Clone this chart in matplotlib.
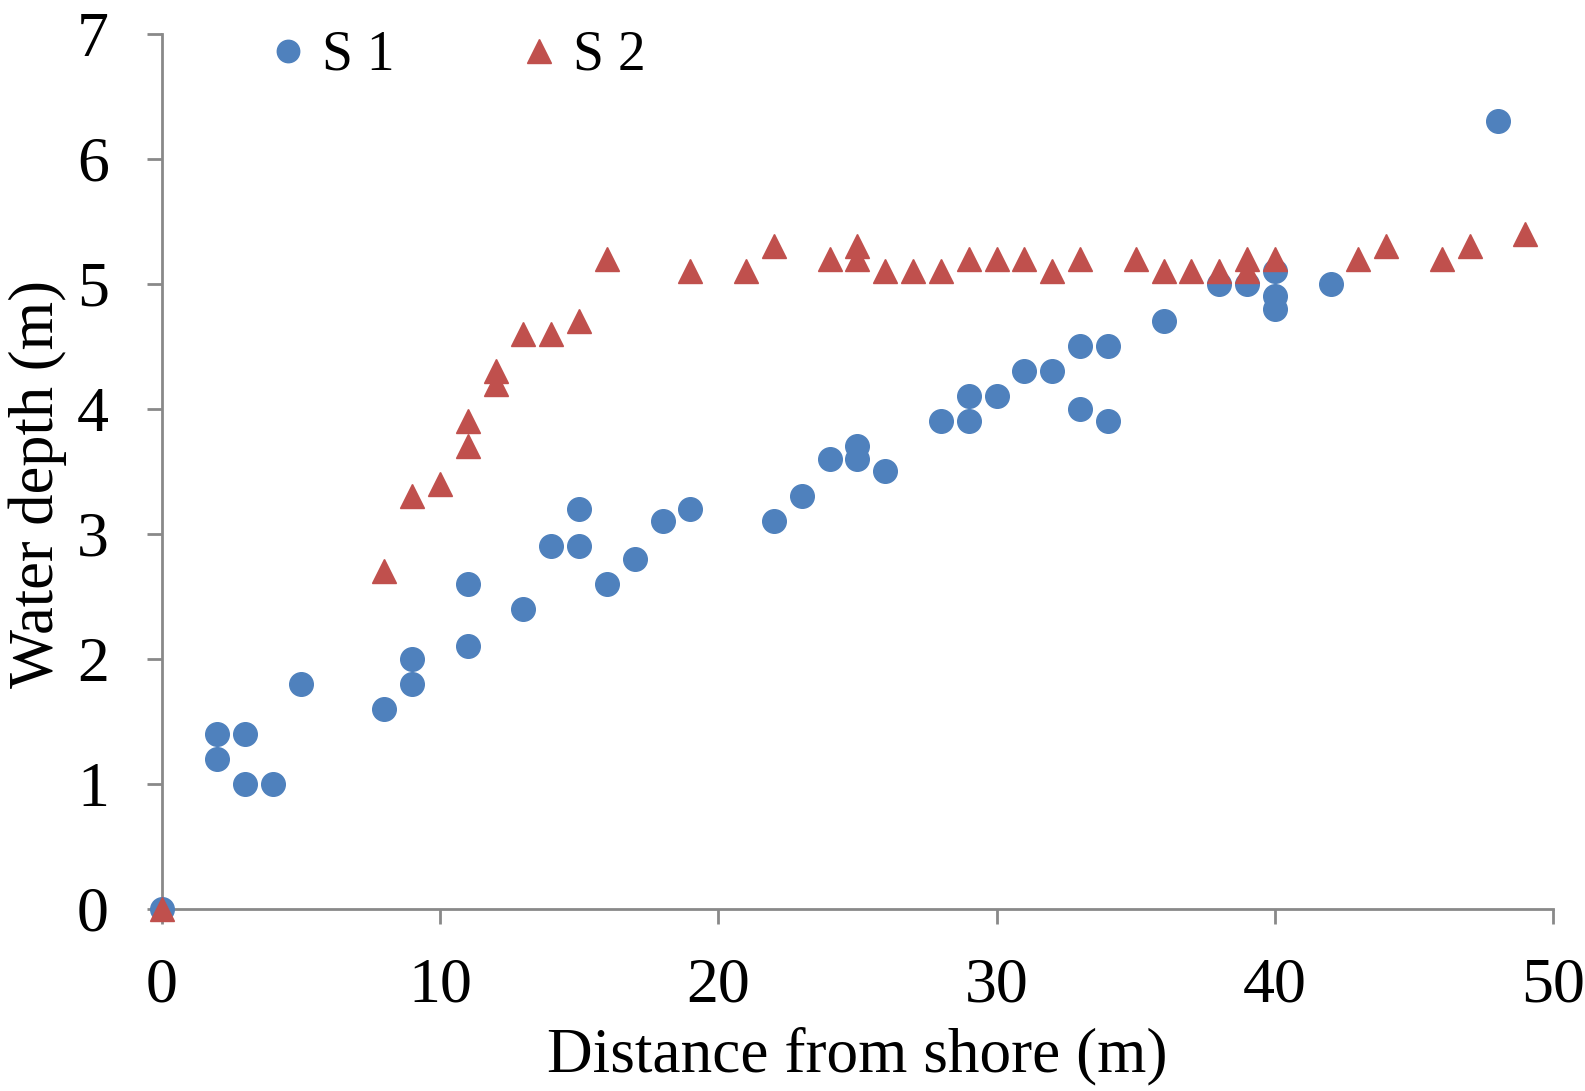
import matplotlib.pyplot as plt

# S 1 survey line (blue circles)
s1_dist = [0, 2, 2, 3, 3, 4, 5, 8, 9, 9, 11, 11, 13, 14, 15, 15, 16, 17, 18, 19,
           22, 23, 24, 25, 25, 26, 28, 29, 29, 30, 31, 32, 33, 33, 34, 34, 36,
           38, 39, 40, 40, 40, 42, 48]
s1_depth = [0, 1.4, 1.2, 1.4, 1.0, 1.0, 1.8, 1.6, 2.0, 1.8, 2.6, 2.1, 2.4, 2.9, 3.2, 2.9, 2.6, 2.8, 3.1, 3.2,
            3.1, 3.3, 3.6, 3.7, 3.6, 3.5, 3.9, 4.1, 3.9, 4.1, 4.3, 4.3, 4.5, 4.0, 4.5, 3.9, 4.7,
            5.0, 5.0, 5.1, 4.9, 4.8, 5.0, 6.3]

# S 2 survey line (red triangles)
s2_dist = [0, 8, 9, 10, 11, 11, 12, 12, 13, 14, 15, 16, 19, 21, 22, 24, 25, 25, 26, 27,
           28, 29, 30, 31, 32, 33, 35, 36, 37, 38, 39, 39, 40, 43, 44, 46, 47, 49]
s2_depth = [0, 2.7, 3.3, 3.4, 3.9, 3.7, 4.3, 4.2, 4.6, 4.6, 4.7, 5.2, 5.1, 5.1, 5.3, 5.2, 5.3, 5.2, 5.1, 5.1,
            5.1, 5.2, 5.2, 5.2, 5.1, 5.2, 5.2, 5.1, 5.1, 5.1, 5.2, 5.1, 5.2, 5.2, 5.3, 5.2, 5.3, 5.4]

x_ticks = [0, 10, 20, 30, 40, 50]
y_ticks = [0, 1, 2, 3, 4, 5, 6, 7]

plt.rcParams['font.family'] = ['Liberation Serif', 'DejaVu Serif']

fig = plt.figure(figsize=(15.85, 10.91), dpi=100)
ax = fig.add_axes([0.102, 0.167, 0.878, 0.802])

ax.plot(s1_dist, s1_depth, linestyle='none', marker='o', markersize=17,
        color='#4F81BD', label='S 1', clip_on=False, zorder=3)
ax.plot(s2_dist, s2_depth, linestyle='none', marker='^', markersize=17.5,
        color='#C0504D', label='S 2', clip_on=False, zorder=4)

ax.set_xlim(0, 50)
ax.set_ylim(0, 7)
ax.set_xticks(x_ticks)
ax.set_yticks(y_ticks)

grey = '#898989'
for side in ['top', 'right']:
    ax.spines[side].set_visible(False)
for side in ['left', 'bottom']:
    ax.spines[side].set_color(grey)
    ax.spines[side].set_linewidth(2)

ax.tick_params(axis='both', direction='out', length=11, width=2, color=grey,
               labelsize=46)
ax.tick_params(axis='x', pad=24)
ax.tick_params(axis='y', pad=27)

ax.set_xlabel('Distance from shore (m)', fontsize=45.5, labelpad=8)
ax.set_ylabel('Water depth (m)', fontsize=45)
ax.yaxis.set_label_coords(-0.068, 0.485)

fig.legend(loc='center left', bbox_to_anchor=(271 / 1585, 1 - 56 / 1091),
           ncol=2, frameon=False, fontsize=40, borderpad=0, borderaxespad=0,
           handlelength=0.6, handletextpad=0.31, columnspacing=2.3,
           markerscale=0.95)

fig.savefig('out.png', dpi=100)
